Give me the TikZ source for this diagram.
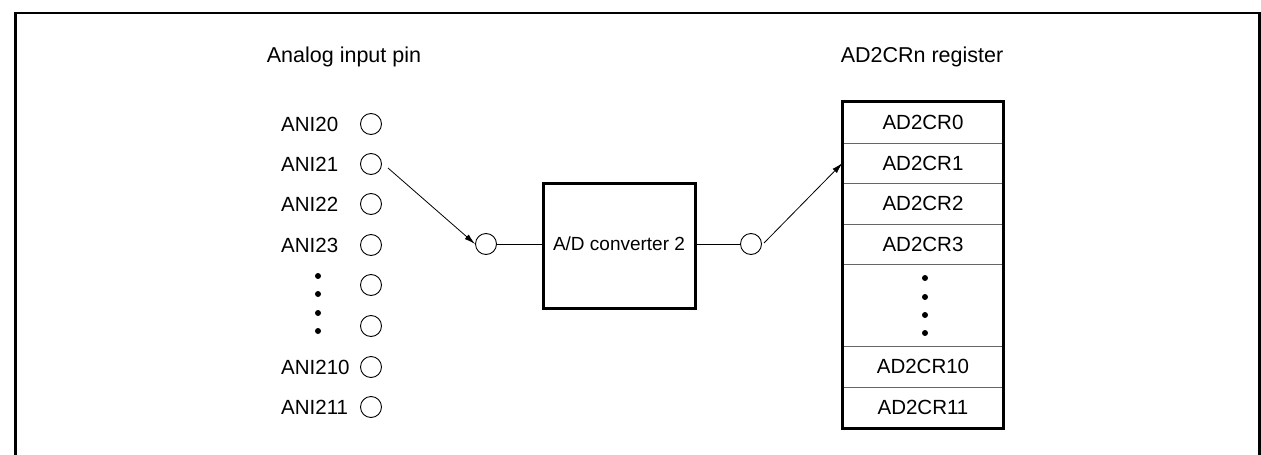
\documentclass[tikz,border=0pt]{standalone}
\usepackage{fontspec}
\setmainfont{Liberation Sans}
\usetikzlibrary{arrows.meta,fit}
\begin{document}
\begin{tikzpicture}[x=1pt,y=-1pt,
  every node/.style={font=\fontsize{20.5}{24}\selectfont},
  titlef/.style={font=\fontsize{21.5}{25}\selectfont},
  pin/.style={circle,draw,line width=0.9pt,minimum size=21pt,inner sep=0pt},
  lbl/.style={anchor=west,inner sep=0pt},
  dotm/.style={circle,fill=black,minimum size=6pt,inner sep=0pt},
  regrow/.style={draw=black!60,line width=1pt,minimum width=160pt,inner sep=0pt},
  arr/.style={line width=0.8pt,-{Latex[length=11pt,width=6pt]}},
  wire/.style={line width=0.8pt}]
\useasboundingbox (0,0) rectangle (1261,455);
% frame
\draw[line width=2.6pt] (15.5,455) -- (15.5,13) -- (1259.5,13) -- (1259.5,455);
% titles
\node[anchor=base,titlef] (tin) at (344,62) {Analog input pin};
\node[anchor=base,titlef] (treg) at (922,62) {AD2CRn register};
% pins
\foreach \n/\y in {0/124,1/164,2/204,3/245,d1/285,d2/326,10/367,11/407}{
  \node[pin] (p\n) at (371,\y) {};
}
\foreach \n/\y in {0/124,1/164,2/204,3/245,10/367,11/407}{
  \node[lbl] (l\n) at (281,\y) {ANI2\n};
}
\foreach \i/\y in {1/276,2/294,3/313,4/331}{
  \node[dotm] (ld\i) at (318,\y) {};
}
% converter
\node[pin] (cin) at (486,244) {};
\node[draw,line width=3pt,minimum width=152pt,minimum height=125pt,inner sep=0pt] (adc) at (619,245.5) {};
\node[font=\fontsize{19}{22}\selectfont] (adct) at (619,244) {A/D converter 2};
\node[pin] (cout) at (751,244) {};
\draw[wire] (cin) -- (cin -| adc.west);
\draw[wire] (cout -| adc.east) -- (cout);
% register rows
\node[regrow,minimum height=41pt] (r0) at (923,122.5) {AD2CR0};
\node[regrow,minimum height=40pt] (r1) at (923,163) {AD2CR1};
\node[regrow,minimum height=41pt] (r2) at (923,203.5) {AD2CR2};
\node[regrow,minimum height=40pt] (r3) at (923,244) {AD2CR3};
\node[regrow,minimum height=82pt] (rd) at (923,305) {};
\node[regrow,minimum height=41pt] (r10) at (923,366.5) {AD2CR10};
\node[regrow,minimum height=41pt] (r11) at (923,407.5) {AD2CR11};
\foreach \i/\y in {1/278,2/297,3/315,4/333}{
  \node[dotm] (rd\i) at (925,\y) {};
}
\node[fit=(r0)(r11),draw,line width=3pt,inner sep=0pt] (reg) {};
% arrows
\coordinate (s21) at (388,168);
\draw[arr] (s21) -- (cin.west);
\coordinate (sout) at (764,243);
\draw[arr] (sout) -- (r1.west);
\end{tikzpicture}
\end{document}
